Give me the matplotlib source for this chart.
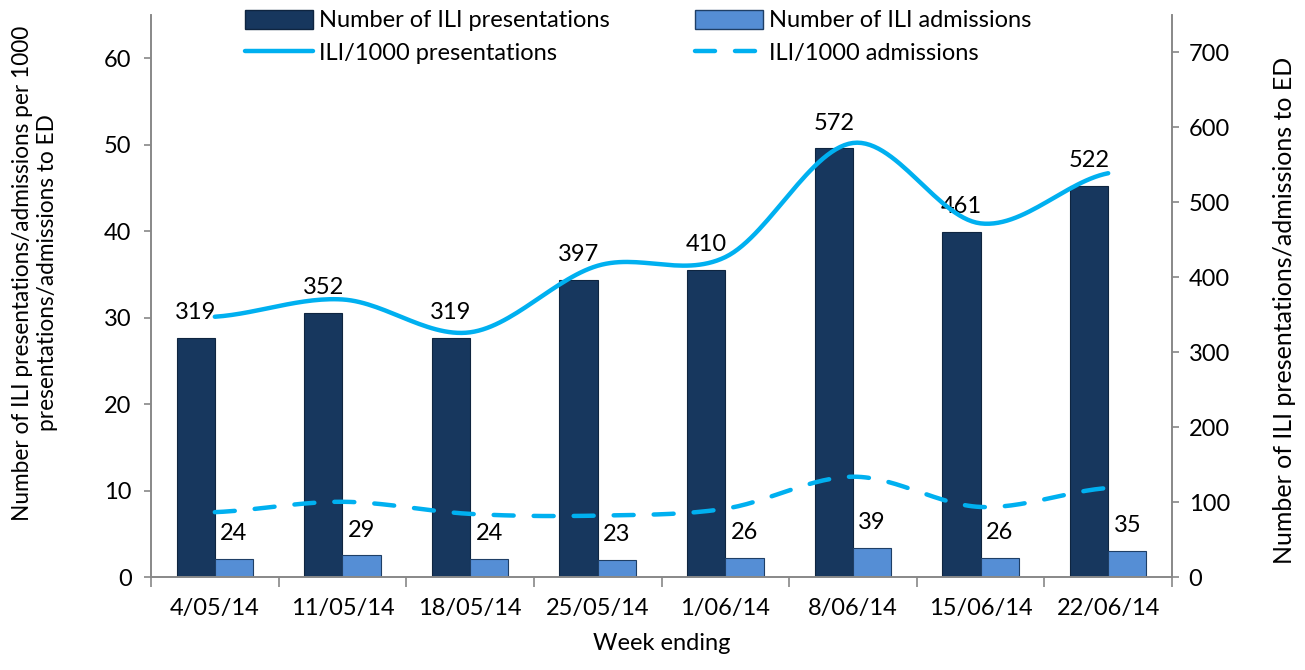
import numpy as np
import matplotlib
matplotlib.use("Agg")
import matplotlib.pyplot as plt
from matplotlib.lines import Line2D
from matplotlib.patches import Patch

weeks = ["4/05/14", "11/05/14", "18/05/14", "25/05/14", "1/06/14", "8/06/14", "15/06/14", "22/06/14"]
presentations = [319, 352, 319, 397, 410, 572, 461, 522]
admissions = [24, 29, 24, 23, 26, 39, 26, 35]
rate_presentations = [30.1, 32.1, 28.3, 36.0, 37.0, 50.2, 40.9, 46.7]
rate_admissions = [7.5, 8.7, 7.3, 7.1, 7.9, 11.6, 8.1, 10.3]

plt.rcParams['font.family'] = ['Lato', 'DejaVu Sans']
FS = 17

DARK = "#17375E"
LIGHT = "#558ED5"
LINE = "#00B0F0"
SPINE = "#888888"


def smooth(xs, ys, n=30):
    xs = np.asarray(xs, float)
    ys = np.asarray(ys, float)
    px = np.concatenate([[2 * xs[0] - xs[1]], xs, [2 * xs[-1] - xs[-2]]])
    py = np.concatenate([[ys[0]], ys, [ys[-1]]])
    outx, outy = [], []
    for i in range(1, len(px) - 2):
        t = np.linspace(0, 1, n, endpoint=(i == len(px) - 3))
        for arr, out in ((px, outx), (py, outy)):
            p0, p1, p2, p3 = arr[i - 1], arr[i], arr[i + 1], arr[i + 2]
            out.extend(0.5 * ((2 * p1) + (-p0 + p2) * t + (2 * p0 - 5 * p1 + 4 * p2 - p3) * t ** 2
                              + (-p0 + 3 * p1 - 3 * p2 + p3) * t ** 3))
    return np.array(outx), np.array(outy)


fig = plt.figure(figsize=(13.05, 6.70), dpi=100)
ax = fig.add_axes([151 / 1305, 1 - 577 / 670, (1172 - 151) / 1305, (577 - 15) / 670])
ax2 = ax.twinx()

x = np.arange(len(weeks))
w = 0.30
ax2.bar(x - w / 2, presentations, w, color=DARK, edgecolor="#0F2540", linewidth=0.8, zorder=2)
ax2.bar(x + w / 2, admissions, w, color=LIGHT, edgecolor="#1F3F66", linewidth=0.8, zorder=2)
for xi, v in zip(x, presentations):
    ax2.annotate(str(v), (xi - w / 2, v), xytext=(0, 13.5), textcoords="offset points",
                 ha="center", va="baseline", fontsize=FS, color="black")
for xi, v in zip(x, admissions):
    ax2.annotate(str(v), (xi + w / 2, v), xytext=(0, 13.5), textcoords="offset points",
                 ha="center", va="baseline", fontsize=FS, color="black")

ax.set_zorder(ax2.get_zorder() + 1)
ax.patch.set_visible(False)
sx, sy = smooth(x, rate_presentations)
ax.plot(sx, sy, color=LINE, lw=3.2, solid_capstyle="round", zorder=3)
sx, sy = smooth(x, rate_admissions)
ax.plot(sx, sy, color=LINE, lw=3.2, dashes=(4.5, 4.5), dash_capstyle="round", zorder=3)

ax.set_xlim(-0.5, len(weeks) - 0.5)
ax.set_ylim(0, 65)
ax2.set_ylim(0, 750)
ax.set_yticks(np.arange(0, 61, 10))
ax2.set_yticks(np.arange(0, 701, 100))
ax.set_xticks(x)
ax.set_xticklabels(weeks, fontsize=FS)
ax.set_xticks(np.arange(-0.5, len(weeks), 1), minor=True)
ax.tick_params(axis="x", which="major", length=0, pad=15)
ax.tick_params(axis="x", which="minor", length=7, color=SPINE, width=1.2)
ax.tick_params(axis="y", length=5, color=SPINE, width=1.2, labelsize=FS, pad=9)
ax2.tick_params(axis="y", length=5, color=SPINE, width=1.2, labelsize=FS, pad=7)

for a in (ax, ax2):
    a.spines["top"].set_visible(False)
    for s in ("left", "right", "bottom"):
        a.spines[s].set_color(SPINE)
        a.spines[s].set_linewidth(1.2)

ax.set_xlabel("Week ending", fontsize=FS, labelpad=10)
fig.text(35 / 1305, 1 - 273 / 670, "Number of ILI presentations/admissions per 1000\npresentations/admissions to ED",
         rotation=90, ha="center", va="center", fontsize=16.3, linespacing=1.2, multialignment="center")
fig.text(1284 / 1305, 1 - 310 / 670, "Number of ILI presentations/admissions to ED",
         rotation=90, ha="center", va="center", fontsize=18)

handles = [Patch(facecolor=DARK, edgecolor="#0F2540"),
           Line2D([], [], color=LINE, lw=3.2, solid_capstyle="round"),
           Patch(facecolor=LIGHT, edgecolor="#1F3F66"),
           Line2D([], [], color=LINE, lw=3.2, dashes=(4.5, 4.5), dash_capstyle="round")]
labels = ["Number of ILI presentations", "ILI/1000 presentations",
          "Number of ILI admissions", "ILI/1000 admissions"]
fig.legend(handles, labels, ncol=2, loc="upper left", bbox_to_anchor=(228 / 1305, 1 + 7 / 670),
           frameon=False, fontsize=FS, handlelength=2.9, handleheight=0.9, handletextpad=0.25,
           columnspacing=3.6, labelspacing=0.45, borderpad=0.2)

fig.savefig("out.png", dpi=100)
